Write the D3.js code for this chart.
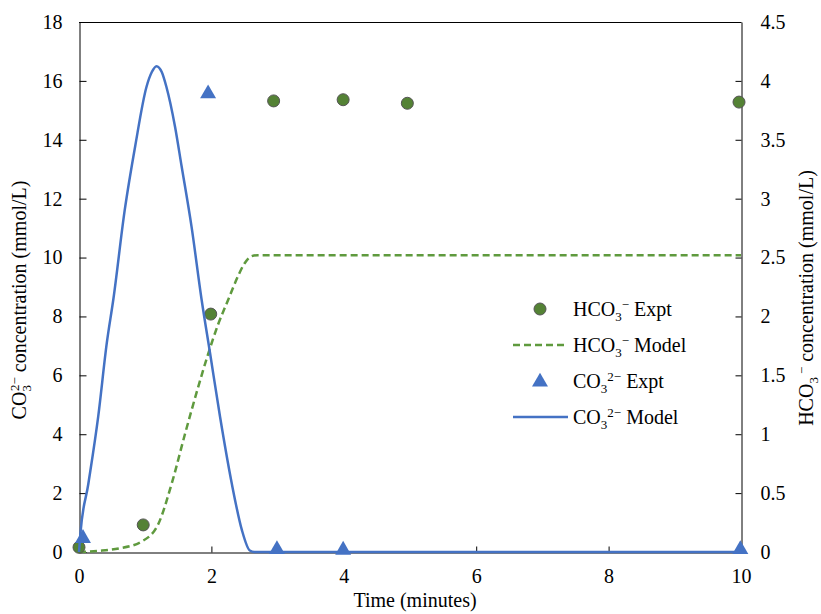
<!DOCTYPE html>
<html>
<head>
<meta charset="utf-8">
<script src="https://cdn.jsdelivr.net/npm/d3@7"></script>
<style>
  body { margin: 0; background: #fff; }
  svg { font-family: "Liberation Serif", "Times New Roman", serif; }
</style>
</head>
<body>
<svg id="chart" width="821" height="614"></svg>
<script>
// CO3 2- model (left axis, mmol/L)
const co3ModelTime = [0, 0.02, 0.14, 0.29, 0.42, 0.52, 0.69, 0.85, 1.02, 1.10, 1.17, 1.25, 1.32, 1.45, 1.55, 1.70, 1.85, 1.98, 2.13, 2.31, 2.46, 2.58, 2.65, 10];
const co3ModelValue = [0, 0.6, 2.3, 4.6, 7.1, 8.6, 11.6, 13.8, 15.8, 16.3, 16.5, 16.3, 15.8, 14.45, 13.1, 11.05, 8.6, 6.75, 4.6, 2.3, 0.75, 0.05, 0, 0];
// CO3 2- experiment (left axis)
const co3ExptTime = [0.06, 1.95, 2.99, 3.99, 9.99];
const co3ExptValue = [0.5, 15.6, 0.12, 0.1, 0.12];
// HCO3 - model (right axis, mmol/L)
const hco3ModelTime = [0, 0.3, 0.6, 0.95, 1.2, 1.4, 1.6, 1.8, 1.95, 2.1, 2.26, 2.4, 2.5, 2.6, 2.7, 10];
const hco3ModelValue = [0, 0.01, 0.03, 0.09, 0.24, 0.58, 1.0, 1.40, 1.68, 1.93, 2.15, 2.34, 2.45, 2.51, 2.52, 2.52];
// HCO3 - experiment (right axis)
const hco3ExptTime = [0, 0.97, 1.99, 2.94, 3.99, 4.96, 9.97];
const hco3ExptValue = [0.04, 0.23, 2.02, 3.83, 3.84, 3.81, 3.82];

const xTicks = [0, 2, 4, 6, 8, 10];
const leftTicks = [0, 2, 4, 6, 8, 10, 12, 14, 16, 18];
const rightTicks = [0, 0.5, 1, 1.5, 2, 2.5, 3, 3.5, 4, 4.5];

const blue = "#4472C4";
const green = "#548235";
const greenLine = "#5F9A3E";

const svg = d3.select("#chart");
const plot = { left: 79, right: 741, top: 22, bottom: 552 };

const x = d3.scaleLinear().domain([0, 10]).range([plot.left, plot.right]);
const yL = d3.scaleLinear().domain([0, 18]).range([plot.bottom, plot.top]);
const yR = d3.scaleLinear().domain([0, 4.5]).range([plot.bottom, plot.top]);

// rich text helper: parts = [[text, kind, dx]]
function richText(sel, parts, size) {
    let shift = 0;
    parts.forEach(([t, k, dx]) => {
        const target = k === "sub" ? 5 : k === "sup" ? -7 : 0;
        sel.append("tspan")
            .attr("dy", target - shift)
            .attr("dx", dx || 0)
            .style("font-size", k === "n" ? size + "px" : Math.round(size * 0.65) + "px")
            .text(t);
        shift = target;
    });
}

// frame top line
svg.append("line")
    .attr("x1", plot.left).attr("x2", plot.right)
    .attr("y1", plot.top + 0.5).attr("y2", plot.top + 0.5)
    .attr("stroke", "#000").attr("stroke-width", 1);

const fontSize = 20;

// bottom axis
const gx = svg.append("g").attr("transform", `translate(0,${plot.bottom + 0.5})`)
    .call(d3.axisBottom(x).tickValues(xTicks).tickSizeInner(-6).tickSizeOuter(0).tickPadding(16).tickFormat(d3.format("")));
// left axis
const gl = svg.append("g").attr("transform", `translate(${plot.left + 0.5},0)`)
    .call(d3.axisLeft(yL).tickValues(leftTicks).tickSizeInner(-7).tickSizeOuter(0).tickPadding(17).tickFormat(d3.format("")));
// right axis
const gr = svg.append("g").attr("transform", `translate(${plot.right + 0.5},0)`)
    .call(d3.axisRight(yR).tickValues(rightTicks).tickSizeInner(-6).tickSizeOuter(0).tickPadding(19).tickFormat(d3.format("")));

[gx, gl, gr].forEach(g => {
    g.selectAll("path.domain").attr("stroke", "#000");
    g.selectAll(".tick line").attr("stroke", "#000");
    g.selectAll(".tick text")
        .attr("fill", "#000")
        .style("font-family", '"Liberation Serif", "Times New Roman", serif')
        .style("font-size", fontSize + "px");
});

// series
const hco3Model = hco3ModelTime.map((t, i) => [t, hco3ModelValue[i]]);
const co3Model = co3ModelTime.map((t, i) => [t, co3ModelValue[i]]);

svg.append("path")
    .datum(hco3Model)
    .attr("fill", "none")
    .attr("stroke", greenLine)
    .attr("stroke-width", 2.5)
    .attr("stroke-dasharray", "7,4")
    .attr("d", d3.line().x(d => x(d[0])).y(d => yR(d[1])).curve(d3.curveMonotoneX));

svg.append("g").selectAll("circle")
    .data(hco3ExptTime.map((t, i) => [t, hco3ExptValue[i]]))
    .enter().append("circle")
    .attr("cx", d => x(d[0]))
    .attr("cy", d => yR(d[1]))
    .attr("r", 6)
    .attr("fill", green)
    .attr("stroke", "#555")
    .attr("stroke-width", 1);

svg.append("path")
    .datum(co3Model)
    .attr("fill", "none")
    .attr("stroke", blue)
    .attr("stroke-width", 2.5)
    .attr("d", d3.line().x(d => x(d[0])).y(d => yL(d[1])).curve(d3.curveMonotoneX));

const tri = d3.symbol().type(d3.symbolTriangle).size(110);
svg.append("g").selectAll("path")
    .data(co3ExptTime.map((t, i) => [t, co3ExptValue[i]]))
    .enter().append("path")
    .attr("d", tri)
    .attr("transform", d => `translate(${x(d[0])},${yL(d[1]) + 1})`)
    .attr("fill", blue);

// axis titles
svg.append("text")
    .attr("x", (plot.left + plot.right) / 2 + 5)
    .attr("y", 607)
    .attr("text-anchor", "middle")
    .style("font-size", fontSize + "px")
    .text("Time (minutes)");

const lt = svg.append("text")
    .attr("transform", "translate(26,300) rotate(-90)")
    .attr("text-anchor", "middle")
    .style("font-size", fontSize + "px");
richText(lt, [["CO", "n"], ["3", "sub"], ["2−", "sup", -6], [" concentration (mmol/L)", "n"]], fontSize);

const rt = svg.append("text")
    .attr("transform", "translate(813,298) rotate(-90)")
    .attr("text-anchor", "middle")
    .style("font-size", fontSize + "px");
richText(rt, [["HCO", "n"], ["3", "sub"], ["−", "sup", 3], [" concentration (mmol/L)", "n"]], fontSize);

// legend
const legendItems = [
    { name: "HCO", sub: "3", sup: "−", tail: " Expt", type: "circle" },
    { name: "HCO", sub: "3", sup: "−", tail: " Model", type: "dash" },
    { name: "CO", sub: "3", sup: "2−", tail: " Expt", type: "tri" },
    { name: "CO", sub: "3", sup: "2−", tail: " Model", type: "line" }
];
const legend = svg.append("g");
legendItems.forEach((it, i) => {
    const cy = 309 + i * 36;
    const g = legend.append("g");
    if (it.type === "circle") {
        g.append("circle").attr("cx", 540).attr("cy", cy).attr("r", 6)
            .attr("fill", green).attr("stroke", "#555").attr("stroke-width", 1);
    } else if (it.type === "dash") {
        g.append("line").attr("x1", 513).attr("x2", 568).attr("y1", cy).attr("y2", cy)
            .attr("stroke", greenLine).attr("stroke-width", 2.5).attr("stroke-dasharray", "7,4");
    } else if (it.type === "tri") {
        g.append("path").attr("d", tri).attr("transform", `translate(540,${cy + 1})`).attr("fill", blue);
    } else {
        g.append("line").attr("x1", 513).attr("x2", 568).attr("y1", cy).attr("y2", cy)
            .attr("stroke", blue).attr("stroke-width", 2.5);
    }
    const t = g.append("text").attr("x", 573).attr("y", cy + 7).style("font-size", fontSize + "px");
    richText(t, [[it.name, "n"], [it.sub, "sub"], [it.sup, "sup"], [it.tail, "n"]], fontSize);
});
</script>
</body>
</html>
